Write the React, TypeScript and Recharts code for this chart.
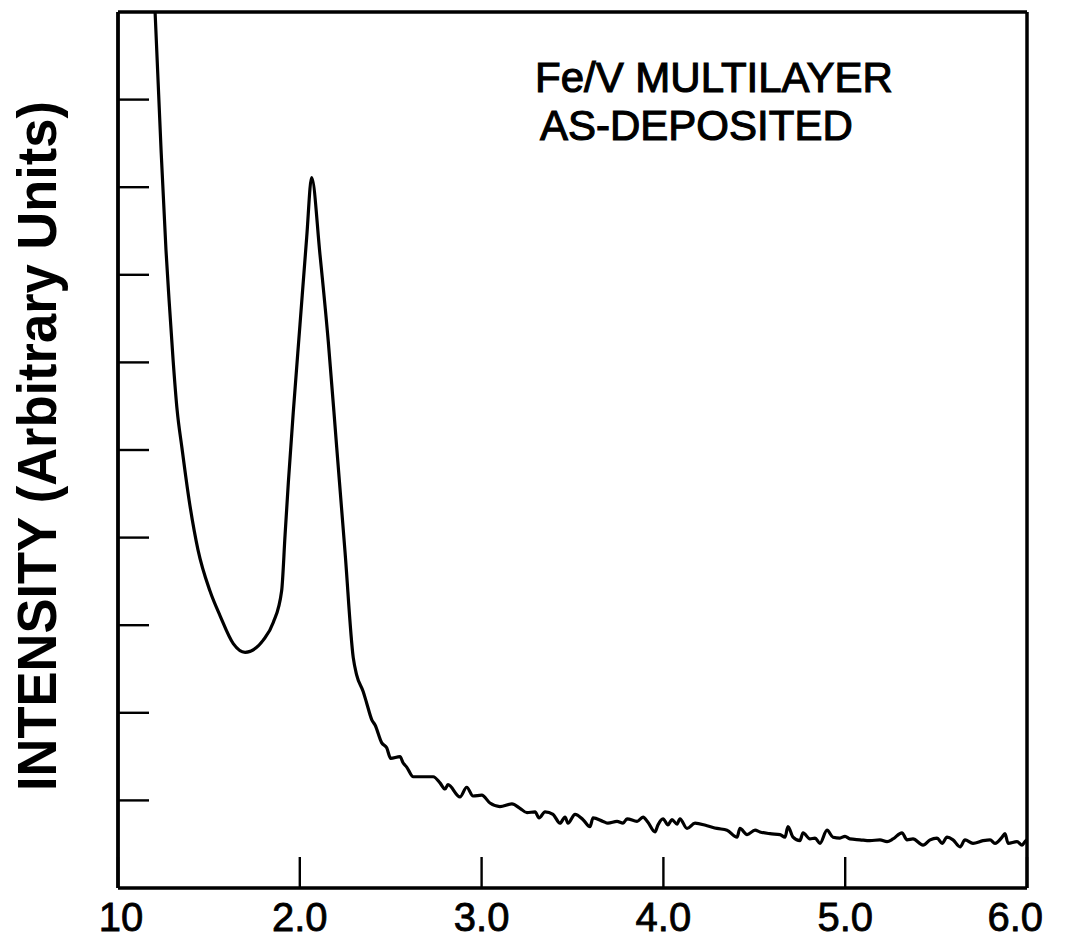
import React from "react"
import { LineChart, Line, XAxis, YAxis, ReferenceLine } from "recharts"

const xValues = [
  1.204, 1.237, 1.264, 1.281, 1.303, 1.325, 1.352, 1.391, 1.44, 1.506, 1.561, 1.634, 1.699, 1.799, 1.854,
  1.9, 1.919, 1.937, 1.964, 2.001, 2.038, 2.065, 2.111, 2.157, 2.203, 2.249, 2.294, 2.313, 2.349,
  2.368, 2.396, 2.414, 2.45, 2.478, 2.5, 2.551, 2.568, 2.588, 2.624, 2.734, 2.771, 2.799, 2.815,
  2.881, 2.918, 2.953, 3.001, 3.046, 3.101,
  3.167, 3.211, 3.25, 3.294, 3.316, 3.349, 3.393, 3.431, 3.459, 3.475, 3.514, 3.558, 3.596, 3.613,
  3.668, 3.695, 3.745, 3.778, 3.8, 3.855, 3.888, 3.915, 3.954, 3.97, 3.998, 4.025, 4.047, 4.075,
  4.091, 4.13, 4.174, 4.24, 4.295, 4.35, 4.405, 4.421, 4.46, 4.504,
  4.531, 4.586, 4.641, 4.669, 4.685, 4.713, 4.751, 4.768, 4.806, 4.834, 4.861, 4.9, 4.933, 4.971,
  4.999, 5.026, 5.081, 5.136, 5.191, 5.23, 5.263, 5.312, 5.34, 5.373, 5.428, 5.467, 5.505, 5.533,
  5.56, 5.593, 5.632, 5.659, 5.703, 5.758, 5.797, 5.824, 5.863, 5.879, 5.896, 5.945, 5.973, 5.989, 6.0,
]

const intensity = [
  10.0, 8.42, 7.28, 6.71, 6.03, 5.46, 5.02, 4.43, 3.86, 3.39, 3.11, 2.79, 2.69, 2.83, 3.03,
  3.39, 4.03, 4.63, 5.43, 6.43, 7.43, 8.11, 7.23, 6.23, 5.03, 3.83, 2.63, 2.43, 2.24,
  2.11, 1.92, 1.86, 1.66, 1.6, 1.48, 1.5, 1.43, 1.38, 1.27, 1.27, 1.2, 1.13, 1.18,
  1.04, 1.15, 1.05, 1.06, 0.97, 0.93,
  0.96, 0.91, 0.86, 0.87, 0.8, 0.87, 0.84, 0.74, 0.81, 0.74, 0.84, 0.78, 0.7, 0.8,
  0.76, 0.74, 0.76, 0.74, 0.79, 0.76, 0.81, 0.75, 0.64, 0.72, 0.79, 0.72, 0.78, 0.73,
  0.79, 0.68, 0.74, 0.71, 0.68, 0.66, 0.58, 0.68, 0.61, 0.66,
  0.64, 0.62, 0.61, 0.58, 0.7, 0.58, 0.54, 0.63, 0.56, 0.57, 0.51, 0.66, 0.58, 0.57,
  0.59, 0.56, 0.55, 0.54, 0.55, 0.53, 0.56, 0.63, 0.55, 0.56, 0.49, 0.55, 0.57, 0.51,
  0.58, 0.55, 0.47, 0.55, 0.51, 0.54, 0.55, 0.51, 0.58, 0.62, 0.51, 0.53, 0.49, 0.53, 0.55,
]

const xTicks = [1, 2, 3, 4, 5, 6]
const xTickLabels = ["10", "2.0", "3.0", "4.0", "5.0", "6.0"]
const yTicks = [1, 2, 3, 4, 5, 6, 7, 8, 9]

const data = xValues.map((x, i) => ({ x, intensity: intensity[i] }))

const FONT = '"Liberation Sans", Arial, Helvetica, sans-serif'
const TICK_LEN = 31

function XTick(props: any) {
  const { x, y, payload, index } = props
  const last = index === xTicks.length - 1
  return (
    <g>
      <line x1={x} x2={x} y1={y} y2={y - TICK_LEN} stroke="#000" strokeWidth={2.4} />
      <text
        x={last ? x + 16 : x + (index === 0 ? 3 : 0)}
        y={y + 43}
        textAnchor={last ? "end" : "middle"}
        fontFamily={FONT}
        fontSize={40}
        fill="#000"
        stroke="#000"
        strokeWidth={0.8}
      >
        {xTickLabels[xTicks.indexOf(payload.value)]}
      </text>
    </g>
  )
}

function YTick(props: any) {
  const { x, y } = props
  return <line x1={x} x2={x + TICK_LEN} y1={y} y2={y} stroke="#000" strokeWidth={2.4} />
}

export default function App() {
  return (
    <div style={{ position: "absolute", left: 0, top: 0, background: "#fff" }}>
      <LineChart width={1065} height={940} data={data} margin={{ top: 12, right: 38, bottom: 0, left: 0 }}>
        <XAxis
          dataKey="x"
          type="number"
          domain={[1, 6]}
          ticks={xTicks}
          interval={0}
          allowDataOverflow
          height={52}
          tickSize={0}
          tickMargin={0}
          tickLine={false}
          tick={<XTick />}
          axisLine={{ stroke: "#000", strokeWidth: 3.5 }}
        />
        <YAxis
          type="number"
          domain={[0, 10]}
          ticks={yTicks}
          interval={0}
          allowDataOverflow
          width={118}
          tickSize={0}
          tickMargin={0}
          tickLine={false}
          tick={<YTick />}
          axisLine={{ stroke: "#000", strokeWidth: 3.8 }}
        />
        <ReferenceLine y={10} stroke="#000" strokeWidth={3.5} />
        <ReferenceLine x={6} stroke="#000" strokeWidth={3.5} />
        <Line
          type="monotone"
          dataKey="intensity"
          stroke="#000"
          strokeWidth={3.2}
          dot={false}
          isAnimationActive={false}
        />
        <text
          x={56}
          y={446}
          transform="rotate(-90 56 446)"
          textAnchor="middle"
          fontFamily={FONT}
          fontWeight="bold"
          fontSize={56}
          textLength={690}
          lengthAdjust="spacingAndGlyphs"
          fill="#000"
        >
          INTENSITY (Arbitrary Units)
        </text>
        <text x={535} y={92} fontFamily={FONT} fontSize={42} fill="#000" stroke="#000" strokeWidth={1.1}>
          Fe/V MULTILAYER
        </text>
        <text x={540} y={140} fontFamily={FONT} fontSize={42} fill="#000" stroke="#000" strokeWidth={1.1}>
          AS-DEPOSITED
        </text>
      </LineChart>
    </div>
  )
}
